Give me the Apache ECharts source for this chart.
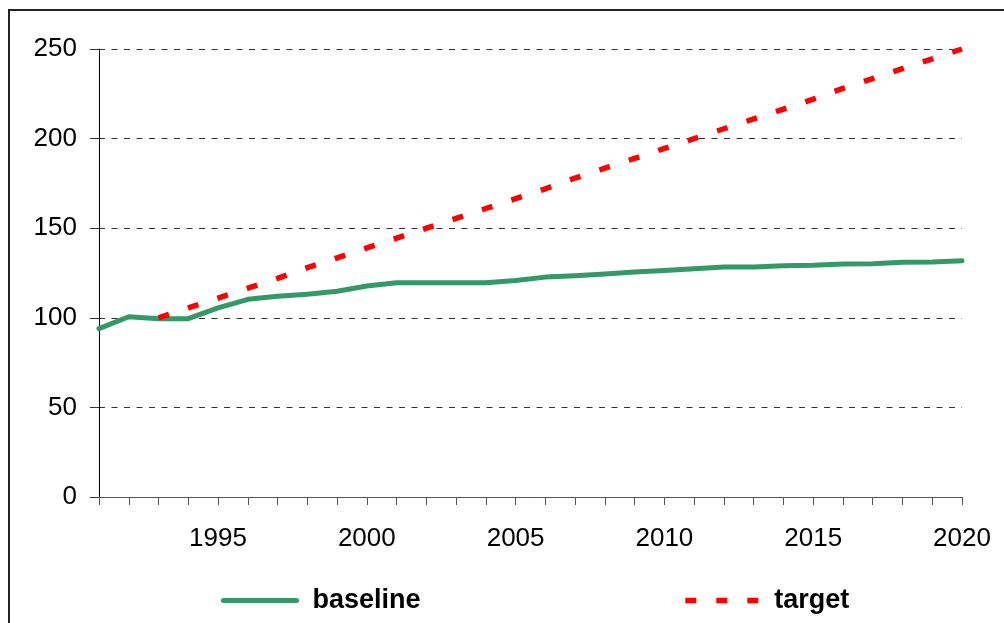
<!DOCTYPE html>
<html>
<head>
<meta charset="utf-8">
<style>
html,body{margin:0;padding:0;background:#fff;}
#chart{width:1004px;height:623px;}
</style>
<script src="https://cdn.jsdelivr.net/npm/echarts@6/dist/echarts.min.js"></script>
</head>
<body>
<div id="chart"></div>
<script>
const years = ['1991','1992','1993','1994','1995','1996','1997','1998','1999','2000',
  '2001','2002','2003','2004','2005','2006','2007','2008','2009','2010',
  '2011','2012','2013','2014','2015','2016','2017','2018','2019','2020'];
const baseline = [94, 100.6, 99.5, 99.5, 105.5, 110.3, 112, 113.2, 114.8, 117.7,
  119.6, 119.6, 119.6, 119.6, 120.8, 122.7, 123.5, 124.5, 125.5, 126.4,
  127.4, 128.3, 128.4, 129, 129.3, 130, 130.2, 131, 131.1, 131.8];
const target = [null, null, 100, 105.5, 111, 116.5, 122, 128, 133.5, 139,
  144.5, 150, 155.5, 161, 166.5, 172, 178, 183.5, 189, 194.5,
  200, 205.5, 211, 216.5, 222, 228, 233.5, 239, 244.5, 250];
const yTicks = {min: 0, max: 250, interval: 50};
const seriesNames = ['baseline', 'target'];

const chart = echarts.init(document.getElementById('chart'), null, {renderer: 'canvas'});
const font = 'Liberation Sans, Arial, sans-serif';
chart.setOption({
  animation: false,
  backgroundColor: '#fff',
  textStyle: {fontFamily: font},
  graphic: [{
    type: 'rect', z: -10, silent: true,
    shape: {x: 9, y: 10, width: 1200, height: 800},
    style: {fill: 'none', stroke: '#222', lineWidth: 2}
  }],
  grid: {left: 99, right: 42, top: 49, bottom: 126, containLabel: false},
  xAxis: {
    type: 'category',
    data: years,
    boundaryGap: false,
    axisLine: {lineStyle: {color: '#555', width: 1}},
    axisTick: {interval: 0, length: 8, lineStyle: {color: '#555'}},
    axisLabel: {
      interval: function (i, v) { return Number(v) % 5 === 0; },
      color: '#000', fontSize: 26, fontFamily: font, margin: 29
    },
    splitLine: {show: false}
  },
  yAxis: {
    type: 'value',
    min: yTicks.min, max: yTicks.max, interval: yTicks.interval,
    axisLine: {show: true, lineStyle: {color: '#000', width: 1}},
    axisTick: {show: true, length: 9, lineStyle: {color: '#333'}},
    axisLabel: {color: '#000', fontSize: 26, fontFamily: font, margin: 22, padding: [4, 0, 0, 0]},
    splitLine: {show: true, lineStyle: {color: '#333', width: 1, type: [6, 6.5]}}
  },
  legend: {
    data: seriesNames,
    left: 221, top: 587, padding: 0,
    itemWidth: 73, itemHeight: 14, itemGap: 262,
    itemStyle: {opacity: 0},
    lineStyle: {width: 'inherit'},
    textStyle: {fontSize: 27, fontWeight: 'bold', color: '#000', fontFamily: font, padding: [0, 0, 0, 11]},
    selectedMode: false
  },
  series: [
    {
      name: seriesNames[0], type: 'line', data: baseline,
      symbol: 'none', smooth: false,
      lineStyle: {color: '#339966', width: 5, cap: 'round', join: 'round'},
      itemStyle: {color: '#339966'}, z: 2
    },
    {
      name: seriesNames[1], type: 'line', data: target,
      symbol: 'none', connectNulls: false,
      lineStyle: {color: '#ff0000', width: 5.5, type: [11, 20], cap: 'butt'},
      itemStyle: {color: '#ff0000'}, z: 3
    }
  ]
});
</script>
</body>
</html>
